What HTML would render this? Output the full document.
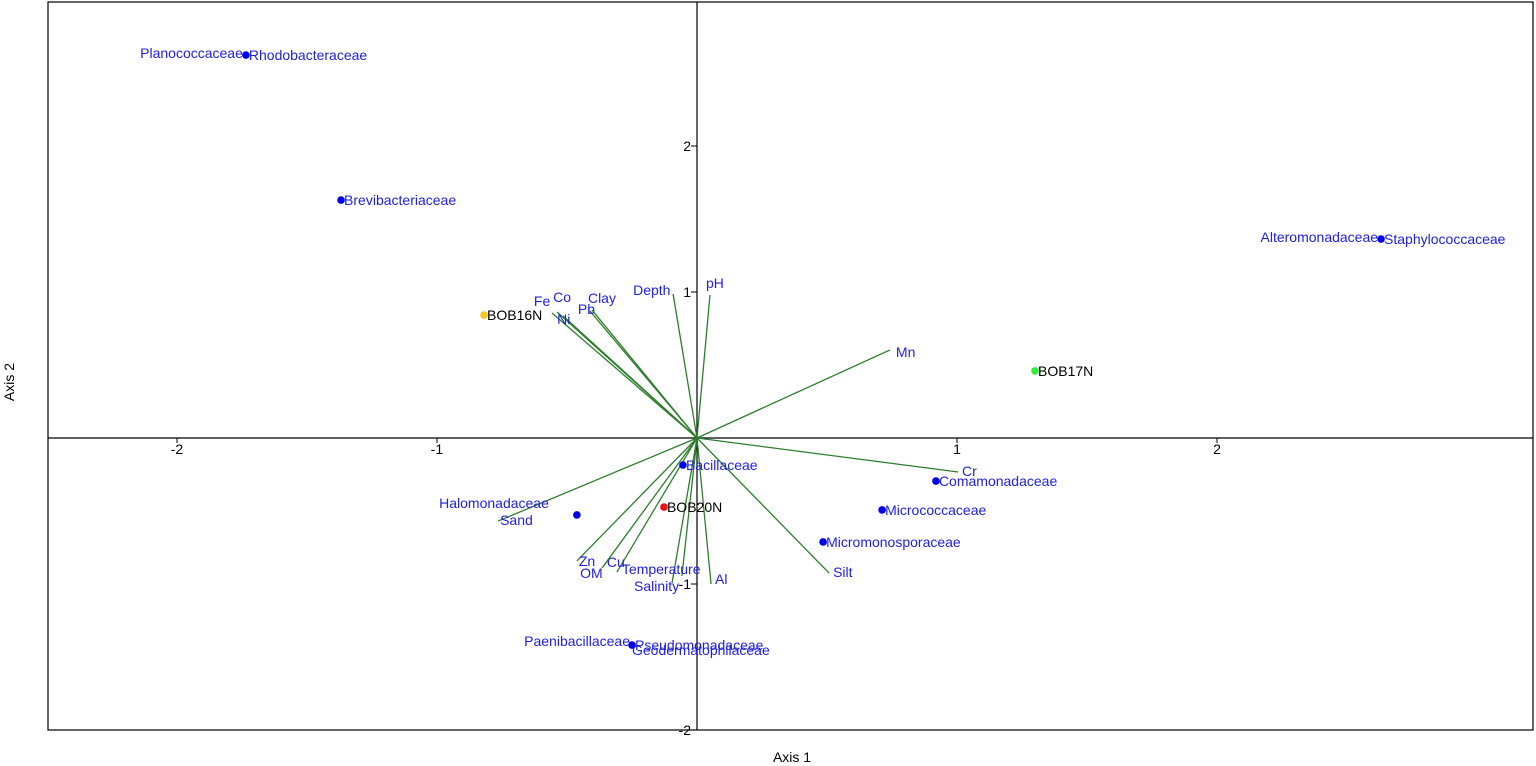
<!DOCTYPE html>
<html><head><meta charset="utf-8"><style>
html,body{margin:0;padding:0;background:#fff;}
svg{display:block;font-family:"Liberation Sans",Arial,sans-serif;}
</style></head><body>
<svg id="chart" width="1536" height="766">
<rect x="48" y="2" width="1485" height="728" fill="none" stroke="#000" stroke-width="1.2"/>
<g id="axes"></g>
<g id="vectors"></g>
<g id="points"></g>
<text x="792" y="762" font-size="14" text-anchor="middle" fill="#000">Axis 1</text>
<text x="14" y="382" font-size="14" text-anchor="middle" fill="#000" transform="rotate(-90 14 382)">Axis 2</text>
</svg>
<script>
const vecNames = ["Fe","Co","Ni","Pb","Clay","Depth","pH","Mn","Cr","Silt","Al","Salinity","Temperature","Cu","OM","Zn","Sand"];
const vecX = [-0.558,-0.538,-0.515,-0.412,-0.404,-0.092,0.05,0.742,1.004,0.508,0.054,-0.096,-0.058,-0.308,-0.365,-0.462,-0.765];
const vecY = [0.856,0.863,0.836,0.870,0.877,0.986,0.979,0.603,-0.233,-0.925,-1.0,-0.993,-0.945,-0.918,-0.89,-0.842,-0.569];
const vecLblDX = [-18,-4,-6,-12,-4,-40,-4,6,4,4,4,-38,-60,-10,-22,2,2];
const vecLblDY = [-12,-15,3,-2,-12,-4,-12,2,-1,-1,-5,3,-7,-10,5,0,-1];
const ptNames = ["Rhodobacteraceae","Brevibacteriaceae","Staphylococcaceae","BOB16N","BOB17N","BOB20N","Bacillaceae","Comamonadaceae","Micrococcaceae","Micromonosporaceae","Pseudomonadaceae"];
const ptX = [-1.735,-1.369,2.631,-0.819,1.3,-0.127,-0.054,0.919,0.712,0.485,-0.25];
const ptY = [2.623,1.630,1.363,0.842,0.459,-0.473,-0.185,-0.295,-0.493,-0.712,-1.418];
const ptColor = ["#0000ee","#0000ee","#0000ee","#f2c81a","#33ee33","#ee1111","#0000ee","#0000ee","#0000ee","#0000ee","#0000ee"];
const extraNames = ["Planococcaceae","Alteromonadaceae","Halomonadaceae","Paenibacillaceae","Geodermatophilaceae"];
const extraX = [-1.735,2.631,-0.462,-0.25,-0.25];
const extraY = [2.623,1.363,-0.527,-1.418,-1.418];
const extraAnchor = ["end","end","end","end","start"];
const extraDX = [-3,-3,-28,-2,0];
const extraDY = [-2,-2,-12,-4,5];
const xTicks = [-2,-1,1,2];
const yTicks = [2,1,-1,-2];

const ox=697, oy=438, sx=260, sy=146;
const X=v=>ox+v*sx, Y=v=>oy-v*sy;
const NS="http://www.w3.org/2000/svg";
function mk(tag,attrs,parent){const e=document.createElementNS(NS,tag);for(const k in attrs)e.setAttribute(k,attrs[k]);parent.appendChild(e);return e;}
const axes=document.getElementById('axes'), vg=document.getElementById('vectors'), pg=document.getElementById('points');

let l=mk('line',{x1:48,x2:1533,y1:Y(0),y2:Y(0),stroke:'#000','stroke-width':1.2},axes);


l=mk('line',{x1:X(0),x2:X(0),y1:2,y2:730,stroke:'#000','stroke-width':1.2},axes);


xTicks.forEach(t=>{
  const tk=mk('line',{x1:X(t),x2:X(t),y1:Y(0),y2:Y(0)+5,stroke:'#000'},axes);
  
  
  const tx=mk('text',{x:X(t),y:Y(0)+16,'font-size':14,'text-anchor':'middle',fill:'#000'},axes);
  tx.textContent=t;
  
  
});
yTicks.forEach(t=>{
  const tk=mk('line',{x1:X(0)-6,x2:X(0),y1:Y(t),y2:Y(t),stroke:'#000'},axes);
  
  
  const tx=mk('text',{x:X(0)-6,y:Y(t)+5,'font-size':14,'text-anchor':'end',fill:'#000'},axes);
  tx.textContent=t;
  
  
});
vecNames.forEach((n,i)=>{
  const ln=mk('line',{x1:X(0),y1:Y(0),x2:X(vecX[i]),y2:Y(vecY[i]),stroke:'#2e7d2e','stroke-width':1.3},vg);
  
  
  const tx=mk('text',{x:X(vecX[i])+vecLblDX[i],y:Y(vecY[i])+vecLblDY[i]+5,'font-size':14,fill:'#2222dd'},vg);
  tx.textContent=n;
  
  
});
ptNames.forEach((n,i)=>{
  const c=mk('circle',{cx:X(ptX[i]),cy:Y(ptY[i]),r:3.8,fill:ptColor[i]},pg);
  
  
  const isSite=n.startsWith('BOB');
  const tx=mk('text',{x:X(ptX[i])+3,y:Y(ptY[i])+5,'font-size':14,fill:isSite?'#000':'#2222dd'},pg);
  tx.textContent=n;
  
  
});
extraNames.forEach((n,i)=>{
  const tx=mk('text',{x:X(extraX[i])+extraDX[i],y:Y(extraY[i])+extraDY[i]+5,'font-size':14,'text-anchor':extraAnchor[i],fill:'#2222dd'},pg);
  tx.textContent=n;
  
  
});
const hc=mk('circle',{cx:X(-0.462),cy:Y(-0.527),r:3.8,fill:'#0000ee'},pg);


</script>
</body></html>
